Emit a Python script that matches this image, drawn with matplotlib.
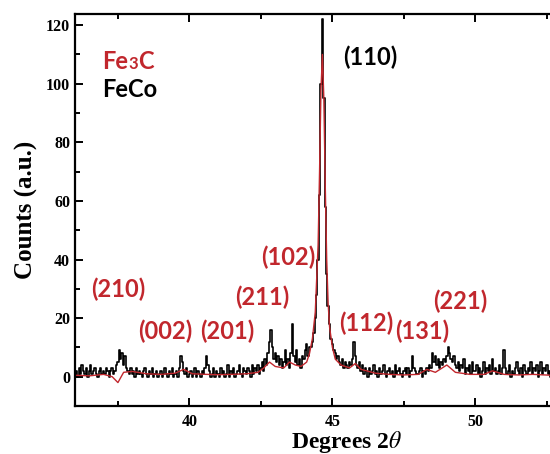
import numpy as np
import matplotlib
matplotlib.use("Agg")
import matplotlib.pyplot as plt
from matplotlib.ticker import MultipleLocator, FixedLocator
from matplotlib.offsetbox import TextArea, HPacker, AnnotationBbox

# measured scan, 0.05 deg steps from 36.00 to 52.65 (one row per degree)
two_theta = np.round(np.arange(36.0, 52.66, 0.05), 2)
counts = np.array([
    1, 2, 0, 3, 1, 4, 2, 1, 3, 0, 2, 4, 1, 2, 3, 1, 0, 2, 3, 1,          # 36
    2, 1, 3, 2, 0, 2, 3, 1, 2, 4, 5, 9, 6, 8, 4, 7, 3, 2, 1, 3,          # 37
    1, 2, 0, 3, 1, 2, 1, 0, 2, 3, 1, 0, 2, 1, 3, 0, 1, 2, 0, 1,          # 38
    2, 0, 1, 3, 1, 0, 2, 1, 3, 0, 1, 2, 0, 3, 7, 5, 2, 1, 3, 0,          # 39
    1, 2, 0, 1, 3, 0, 2, 1, 0, 2, 1, 3, 7, 4, 2, 0, 1, 3, 0, 2,          # 40
    1, 0, 3, 1, 2, 0, 1, 4, 0, 2, 1, 3, 0, 1, 2, 4, 1, 0, 3, 2,          # 41
    1, 3, 2, 0, 4, 1, 3, 2, 4, 1, 3, 5, 2, 6, 4, 8, 12, 16, 10, 6,       # 42
    8, 5, 7, 4, 6, 3, 5, 9, 4, 6, 3, 8, 18, 7, 5, 9, 4, 6, 3, 7,         # 43
    6, 9, 11, 7, 10, 10, 12, 15, 20, 28, 40, 62, 100, 122, 95, 58, 35, 24, 18, 13,  # 44
    11, 9, 8, 6, 7, 5, 4, 6, 3, 5, 4, 3, 5, 4, 6, 12, 7, 4, 3, 5,        # 45
    2, 4, 1, 3, 2, 0, 3, 1, 2, 4, 1, 2, 0, 3, 1, 2, 4, 1, 0, 2,          # 46
    3, 1, 2, 0, 4, 1, 2, 3, 1, 0, 2, 3, 1, 3, 0, 2, 7, 3, 2, 1,          # 47
    1, 2, 3, 0, 2, 1, 3, 2, 4, 3, 8, 5, 7, 4, 6, 3, 5, 4, 6, 5,          # 48
    7, 10, 8, 6, 5, 7, 4, 3, 5, 2, 4, 3, 6, 1, 3, 2, 4, 1, 5, 2,         # 49
    2, 4, 1, 3, 0, 2, 5, 1, 3, 2, 4, 1, 6, 2, 3, 1, 2, 4, 1, 3,          # 50
    9, 3, 1, 2, 4, 0, 2, 1, 3, 5, 2, 1, 3, 0, 4, 2, 1, 3, 2, 5,          # 51
    1, 3, 2, 4, 0, 2, 5, 1, 3, 2, 4, 1, 2, 0,                            # 52
])

# fitted profile
fit_x = [36.0, 36.5, 37.0, 37.3, 37.5, 37.7, 38.0, 38.5, 39.0, 39.5, 39.8,
         40.1, 40.6, 41.0, 41.5, 42.0, 42.4, 42.6, 42.8, 43.0, 43.3, 43.5,
         43.7, 43.9, 44.1, 44.2, 44.3, 44.4, 44.5, 44.55, 44.6, 44.65, 44.7,
         44.75, 44.8, 44.85, 44.9, 45.0, 45.1, 45.3, 45.6, 45.8, 46.0, 46.5,
         47.0, 47.5, 48.0, 48.3, 48.6, 49.0, 49.3, 49.8, 50.3, 50.6, 51.0,
         51.5, 52.0, 52.65]
fit_y = [0.5, 0.3, 0.8, 0.0, -2.0, 1.5, 1.8, 1.0, 0.8, 1.2, 2.5,
         1.0, 0.8, 0.7, 0.8, 1.0, 1.5, 3.0, 5.0, 3.5, 3.0, 5.0,
         4.0, 3.5, 5.0, 8.0, 13.0, 22.0, 45.0, 70.0, 98.0, 110.0, 95.0,
         65.0, 40.0, 25.0, 17.0, 10.0, 6.0, 4.0, 3.0, 4.5, 2.5, 1.2,
         0.8, 0.6, 0.8, 2.5, 1.5, 4.0, 1.5, 0.8, 0.8, 2.0, 0.8,
         0.6, 0.8, 0.5]

# peak labels (hkl, position, height)
fe3c_hkl = ["(210)", "(002)", "(201)", "(211)", "(102)", "(112)", "(131)", "(221)"]
fe3c_x = [37.5, 39.16, 41.33, 42.55, 43.46, 46.2, 48.15, 49.48]
fe3c_y = [29.7, 15.4, 15.4, 27.0, 40.6, 18.4, 15.4, 25.6]
feco_hkl = ["(110)"]
feco_x = [46.33]
feco_y = [108.9]

xticks = [40, 45, 50]

red = "#c1272d"
plt.rcParams["mathtext.fontset"] = "stix"

fig = plt.figure(figsize=(5.5, 4.54), dpi=100)
ax = fig.add_axes([0.1364, 0.1057, 0.988, 0.8635])

ax.plot(two_theta, counts, color="black", lw=1.2, drawstyle="steps-mid")
ax.plot(fit_x, fit_y, color=red, lw=1.0)

ax.set_xlim(36.0, 55.0)
ax.set_ylim(-10, 123.8)
ax.xaxis.set_major_locator(FixedLocator(xticks))
ax.xaxis.set_minor_locator(MultipleLocator(2.5))
ax.yaxis.set_major_locator(MultipleLocator(20))
ax.yaxis.set_minor_locator(MultipleLocator(10))
ax.tick_params(which="both", direction="in", top=True, right=True, width=1.4)
ax.tick_params(which="major", length=6)
ax.tick_params(which="minor", length=3.5)
for sp in ax.spines.values():
    sp.set_linewidth(1.6)

for lab in ax.get_xticklabels() + ax.get_yticklabels():
    lab.set_fontfamily("Liberation Serif")
    lab.set_fontweight("bold")
    lab.set_fontsize(11.5)
ax.tick_params(axis="x", pad=6)

ax.set_xlabel(r"Degrees 2$\theta$", family="Liberation Serif",
              fontweight="bold", fontsize=17, labelpad=-1)
ax.set_ylabel("Counts (a.u.)", family="Liberation Serif",
              fontweight="bold", fontsize=18, labelpad=6)

lab_font = dict(family="Lato", fontweight="bold", fontsize=17)
for s, x, y in zip(fe3c_hkl, fe3c_x, fe3c_y):
    ax.text(x, y, s, color=red, ha="center", va="center", **lab_font)
for s, x, y in zip(feco_hkl, feco_x, feco_y):
    ax.text(x, y, s, color="black", ha="center", va="center", **lab_font)

# legend text: Fe3C with a small baseline "3"
parts = [TextArea("Fe", textprops=dict(color=red, **lab_font)),
         TextArea("3", textprops=dict(color=red, family="Lato",
                                      fontweight="bold", fontsize=12)),
         TextArea("C", textprops=dict(color=red, **lab_font))]
fe3c_box = HPacker(children=parts, align="baseline", pad=0, sep=0)
ax.add_artist(AnnotationBbox(fe3c_box, (36.95, 107.5), xycoords="data",
                             frameon=False, box_alignment=(0, 0.5), pad=0))
ax.text(36.95, 98, "FeCo", color="black", ha="left", va="center", **lab_font)

fig.savefig("out.png", dpi=100)
